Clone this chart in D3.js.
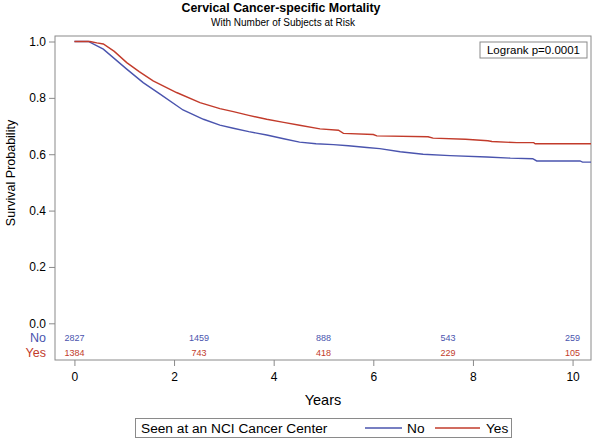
<!DOCTYPE html>
<html><head><meta charset="utf-8">
<script src="https://cdn.jsdelivr.net/npm/d3@7"></script>
<style>body{margin:0;background:#fff}svg{display:block;font-family:"Liberation Sans",Arial,sans-serif}</style>
</head><body><svg id="c" width="593" height="438"></svg>
<script>
const title = "Cervical Cancer-specific Mortality";
const subtitle = "With Number of Subjects at Risk";
const groups = ["No", "Yes"];
const colors = ["#4a54ae", "#c23b2b"];
const noTimes = [0,0.28,0.58,1.05,1.38,1.72,2.18,2.59,2.92,3.19,3.5,3.86,4.2,4.52,4.85,5.2,5.5,5.87,6.13,6.54,7.0,7.54,8.28,8.75,9.2,9.28,10.15,10.2,10.37];
const noSurv  = [1,1,0.973,0.902,0.854,0.813,0.757,0.724,0.703,0.692,0.680,0.668,0.655,0.643,0.637,0.634,0.630,0.624,0.620,0.609,0.600,0.595,0.590,0.586,0.584,0.576,0.576,0.572,0.572];
const yesTimes = [0,0.31,0.45,0.58,0.8,1.05,1.3,1.58,2.05,2.52,2.92,3.19,3.5,3.86,4.2,4.52,4.93,5.3,5.4,6.0,6.07,7.1,7.2,7.85,8.3,8.38,8.88,9.22,9.25,10.37];
const yesSurv  = [1,1,0.995,0.991,0.965,0.925,0.893,0.860,0.819,0.783,0.762,0.751,0.738,0.724,0.713,0.703,0.690,0.685,0.674,0.670,0.665,0.662,0.657,0.653,0.648,0.645,0.641,0.641,0.637,0.637];
const riskTimes = [0,2.5,5,7.5,10];
const riskNo = [2827,1459,888,543,259];
const riskYes = [1384,743,418,229,105];
const xTicks = [0,2,4,6,8,10];
const yTicks = [0,0.2,0.4,0.6,0.8,1.0];

const svg = d3.select("#c");
const L = 55, R = 591, T = 36, B = 360;
const x = d3.scaleLinear().domain([-0.39, 10.37]).range([L, R]);
const y = d3.scaleLinear().domain([0, 1]).range([323.3, 41.5]);
const grey = "#8a8a8a";

svg.append("text").attr("x", 281).attr("y", 12).attr("text-anchor","middle")
  .attr("font-weight","bold").attr("font-size",12.4).text(title);
svg.append("text").attr("x", 283).attr("y", 26).attr("text-anchor","middle")
  .attr("font-size",10).text(subtitle);

svg.append("rect").attr("x",L).attr("y",T).attr("width",R-L).attr("height",B-T)
  .attr("fill","none").attr("stroke",grey).attr("stroke-width",1);

const yAxis = d3.axisLeft(y).tickValues(yTicks).tickFormat(d3.format(".1f")).tickSize(6).tickPadding(3);
const gy = svg.append("g").attr("transform",`translate(${L},0)`).call(yAxis);
gy.select(".domain").remove();
gy.selectAll("line").attr("stroke",grey);
gy.selectAll("text").attr("font-size",12).attr("font-family","Liberation Sans, Arial, sans-serif").attr("fill","#000");

const xAxis = d3.axisBottom(x).tickValues(xTicks).tickFormat(d3.format("d")).tickSize(6).tickPadding(6);
const gx = svg.append("g").attr("transform",`translate(0,${B})`).call(xAxis);
gx.select(".domain").remove();
gx.selectAll("line").attr("stroke",grey);
gx.selectAll("text").attr("font-size",12).attr("font-family","Liberation Sans, Arial, sans-serif").attr("fill","#000");

svg.append("text").attr("x",323).attr("y",405).attr("text-anchor","middle").attr("font-size",14.5).text("Years");
svg.append("text").attr("transform","translate(15,173) rotate(-90)").attr("text-anchor","middle")
  .attr("font-size",12.5).text("Survival Probability");

const line = d3.line().x(d=>x(d[0])).y(d=>y(d[1])).curve(d3.curveLinear);
const series = [d3.zip(noTimes, noSurv), d3.zip(yesTimes, yesSurv)];
series.forEach((s,i)=>{
  svg.append("path").datum(s).attr("d",line).attr("fill","none")
    .attr("stroke",colors[i]).attr("stroke-width",1.4);
});

// at-risk
const riskRows = [riskNo, riskYes];
const rowY = [341, 356];
riskRows.forEach((row,i)=>{
  svg.append("text").attr("x",46).attr("y",rowY[i]+1).attr("text-anchor","end")
    .attr("font-size",12.5).attr("fill",colors[i]).text(groups[i]);
  row.forEach((v,j)=>{
    svg.append("text").attr("x",x(riskTimes[j])).attr("y",rowY[i]).attr("text-anchor","middle")
      .attr("font-size",9).attr("fill",colors[i]).text(v);
  });
});

// logrank box
svg.append("rect").attr("x",480).attr("y",42).attr("width",107).attr("height",16)
  .attr("fill","#fff").attr("stroke",grey);
svg.append("text").attr("x",533.5).attr("y",54).attr("text-anchor","middle").attr("font-size",11.5).text("Logrank p=0.0001");

// legend
svg.append("rect").attr("x",135.5).attr("y",418.5).attr("width",376).attr("height",19)
  .attr("fill","#fff").attr("stroke",grey);
svg.append("text").attr("x",141).attr("y",433).attr("font-size",13.7).text("Seen at an NCI Cancer Center");
const legX = [[365,402,407],[435,480,486]];
groups.forEach((g,i)=>{
  svg.append("line").attr("x1",legX[i][0]).attr("x2",legX[i][1]).attr("y1",428).attr("y2",428)
    .attr("stroke",colors[i]).attr("stroke-width",1.4);
  svg.append("text").attr("x",legX[i][2]).attr("y",433).attr("font-size",13.7).text(g);
});
</script></body></html>
